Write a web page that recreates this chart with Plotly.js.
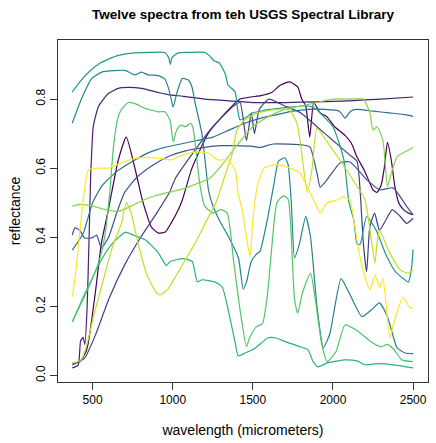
<!DOCTYPE html>
<html><head><meta charset="utf-8">
<script src="https://cdn.plot.ly/plotly-3.0.1.min.js"></script>
<style>body{margin:0;background:#fff}#chart{width:436px;height:443px}</style>
</head><body><div id="chart"></div>
<script>
const colors = ["#440154","#482173","#433E85","#38598C","#2D708E","#25858E","#1E9B8A","#2BB07F","#51C56A","#85D54A","#C2DF23","#FDE725"];

// 1 dark purple (peaks at 710 and 1730)
const w1 = [373,420,460,473,517,555,598,660,710,767,810,829,866,910,953,990,1034,1060,1120,1220,1300,1420,1550,1620,1670,1730,1780,1805,1830,1855,1880,1920,1960,2010,2075,2115,2150,2195,2230,2250,2275,2300,2320,2340,2365,2385,2410,2440,2470,2500];
const r1 = [0.035,0.04,0.07,0.094,0.24,0.383,0.479,0.623,0.69,0.594,0.508,0.479,0.43,0.412,0.415,0.441,0.479,0.508,0.6,0.7,0.745,0.8,0.81,0.82,0.84,0.85,0.835,0.80,0.78,0.69,0.79,0.76,0.75,0.72,0.695,0.672,0.632,0.594,0.557,0.537,0.53,0.55,0.6,0.675,0.62,0.55,0.50,0.48,0.47,0.465];

// 2 purple (flat ~0.8)
const w2 = [373,410,425,440,452,466,478,488,494,504,536,598,660,723,806,910,972,1065,1200,1350,1500,1700,1900,2100,2300,2500];
const r2 = [0.022,0.03,0.10,0.11,0.09,0.2,0.4,0.58,0.643,0.72,0.778,0.816,0.831,0.834,0.831,0.819,0.813,0.808,0.80,0.795,0.79,0.79,0.792,0.795,0.80,0.806];

// 3 indigo
const w3 = [373,450,520,600,700,800,900,980,1017,1120,1250,1380,1420,1460,1490,1510,1540,1600,1700,1800,1900,2000,2100,2150,2170,2190,2210,2230,2260,2290,2330,2370,2420,2460,2500];
const r3 = [0.03,0.05,0.12,0.22,0.32,0.40,0.47,0.53,0.571,0.64,0.72,0.78,0.79,0.68,0.76,0.70,0.77,0.80,0.78,0.76,0.72,0.68,0.64,0.62,0.53,0.38,0.30,0.43,0.47,0.42,0.45,0.48,0.46,0.44,0.455];

// 4 blue (wiggly start)
const w4 = [373,390,420,450,495,525,555,600,650,700,780,880,980,1080,1200,1300,1400,1500,1545,1627,1815,1857,1900,1920,1962,2044,2106,2212,2293,2375,2462,2500];
const r4 = [0.406,0.427,0.42,0.398,0.398,0.406,0.369,0.40,0.47,0.53,0.575,0.61,0.635,0.65,0.66,0.665,0.665,0.663,0.66,0.67,0.667,0.661,0.586,0.545,0.566,0.615,0.618,0.566,0.537,0.543,0.488,0.465];

// 5 blue-teal (ends ~0.75)
const w5 = [373,440,500,560,650,750,850,950,1050,1150,1250,1350,1450,1550,1650,1750,1850,1950,2040,2075,2110,2150,2250,2350,2450,2500];
const r5 = [0.363,0.41,0.50,0.55,0.59,0.62,0.645,0.66,0.67,0.68,0.69,0.71,0.73,0.745,0.755,0.765,0.77,0.77,0.765,0.745,0.765,0.77,0.765,0.76,0.755,0.75];

// 6 teal (starts 0.73)
const w6 = [373,430,495,557,702,764,805,847,910,951,972,992,1003,1024,1045,1060,1097,1120,1140,1182,1223,1244,1290,1350,1410,1440,1460,1490,1520,1545,1590,1630,1660,1700,1720,1740,1760,1790,1830,1860,1900,1940,1980,2050,2100,2180,2240,2290,2340,2400,2450,2500];
const r6 = [0.73,0.80,0.86,0.878,0.883,0.87,0.878,0.87,0.868,0.858,0.834,0.797,0.777,0.815,0.845,0.86,0.855,0.835,0.788,0.70,0.537,0.50,0.45,0.40,0.34,0.25,0.27,0.33,0.35,0.36,0.45,0.55,0.62,0.63,0.61,0.50,0.34,0.38,0.46,0.40,0.20,0.08,0.12,0.28,0.24,0.17,0.19,0.21,0.17,0.08,0.065,0.063];

// 7 teal (top, starts 0.82)
const w7 = [373,420,480,550,650,750,850,950,975,985,995,1030,1100,1200,1230,1260,1290,1310,1330,1345,1370,1390,1405,1420,1450,1500,1550,1600,1700,1800,1850,1900,1920,2000,2040,2070,2100,2130,2150,2170,2210,2270,2330,2390,2440,2470,2490,2500];
const r7 = [0.82,0.85,0.88,0.905,0.925,0.933,0.935,0.935,0.92,0.90,0.92,0.933,0.935,0.935,0.925,0.91,0.905,0.89,0.87,0.84,0.83,0.82,0.77,0.74,0.745,0.76,0.765,0.77,0.775,0.78,0.78,0.77,0.76,0.72,0.67,0.62,0.50,0.45,0.38,0.38,0.46,0.42,0.35,0.30,0.28,0.27,0.31,0.365];

// 8 green-teal (hump at 0.41)
const w8 = [373,455,555,620,705,760,830,910,960,985,1066,1122,1153,1184,1265,1309,1346,1390,1408,1452,1514,1595,1639,1701,1795,1844,1876,1907,1969,2075,2150,2200,2281,2387,2499];
const r8 = [0.155,0.24,0.335,0.38,0.415,0.405,0.392,0.355,0.318,0.33,0.338,0.33,0.271,0.277,0.27,0.256,0.19,0.094,0.057,0.065,0.079,0.109,0.109,0.098,0.083,0.074,0.04,0.025,0.037,0.045,0.042,0.031,0.034,0.03,0.022];

// 9 green (peak 0.79 at 720)
const w9 = [373,420,480,540,575,605,630,655,680,723,764,827,868,910,951,983,1003,1024,1050,1080,1110,1125,1145,1170,1200,1250,1300,1340,1380,1420,1460,1480,1520,1560,1590,1620,1650,1690,1720,1740,1760,1780,1810,1860,1890,1930,1965,2020,2075,2150,2230,2300,2340,2380,2430,2500];
const r9 = [0.155,0.20,0.26,0.33,0.40,0.52,0.66,0.74,0.77,0.79,0.787,0.773,0.768,0.763,0.763,0.739,0.676,0.71,0.725,0.72,0.73,0.72,0.65,0.55,0.49,0.47,0.48,0.47,0.33,0.19,0.083,0.11,0.14,0.15,0.23,0.38,0.50,0.52,0.51,0.40,0.22,0.18,0.24,0.296,0.22,0.09,0.04,0.07,0.146,0.13,0.10,0.083,0.09,0.075,0.045,0.04];

// 10 light green (starts 0.49)
const w10 = [373,420,500,580,660,740,805,890,972,1065,1150,1230,1300,1390,1500,1600,1700,1800,1900,2000,2110,2190,2230,2250,2275,2312,2340,2360,2400,2437,2500];
const r10 = [0.49,0.495,0.49,0.48,0.475,0.49,0.505,0.52,0.53,0.54,0.555,0.57,0.605,0.66,0.72,0.75,0.77,0.78,0.79,0.80,0.80,0.80,0.76,0.71,0.72,0.68,0.546,0.58,0.633,0.644,0.66];

// 11 yellow-green
const w11 = [373,430,470,510,540,580,630,680,710,740,785,840,890,920,970,1016,1078,1140,1223,1270,1320,1370,1400,1450,1530,1650,1730,1775,1800,1840,1870,1900,1970,2056,2137,2200,2240,2262,2275,2290,2355,2420,2470,2500];
const r11 = [0.035,0.045,0.10,0.18,0.23,0.30,0.38,0.44,0.50,0.47,0.38,0.29,0.245,0.233,0.25,0.285,0.334,0.383,0.459,0.50,0.57,0.64,0.71,0.74,0.76,0.77,0.768,0.73,0.66,0.53,0.60,0.715,0.672,0.615,0.557,0.508,0.39,0.325,0.383,0.42,0.354,0.305,0.296,0.305];

// 12 yellow
const w12 = [373,395,430,473,535,598,705,785,890,990,1034,1140,1222,1284,1346,1390,1408,1433,1460,1483,1500,1530,1570,1650,1732,1795,1838,1900,1920,1962,2025,2062,2106,2130,2160,2200,2231,2262,2293,2312,2355,2380,2437,2480,2500];
const r12 = [0.228,0.30,0.458,0.594,0.60,0.60,0.62,0.63,0.63,0.624,0.633,0.647,0.644,0.624,0.624,0.594,0.528,0.479,0.40,0.343,0.45,0.55,0.60,0.61,0.60,0.586,0.546,0.488,0.47,0.499,0.508,0.517,0.508,0.45,0.363,0.285,0.248,0.29,0.254,0.282,0.109,0.153,0.227,0.196,0.196];

const waves = [w1,w2,w3,w4,w5,w6,w7,w8,w9,w10,w11,w12];
const refl = [r1,r2,r3,r4,r5,r6,r7,r8,r9,r10,r11,r12];

const traces = waves.map((w,i)=>({x:w,y:refl[i],type:'scatter',mode:'lines',
  line:{color:colors[i],width:1.2,shape:'spline',smoothing:0.5},hoverinfo:'skip'}));

const layout = {
  width:436,height:443,showlegend:false,
  paper_bgcolor:'#fff',plot_bgcolor:'#fff',
  margin:{l:58,r:8,t:40,b:61},
  font:{family:'Liberation Sans, Arial, sans-serif',size:12,color:'#000'},
  title:{text:'<b>Twelve spectra from teh USGS Spectral Library</b>',xref:'paper',x:0.5,xanchor:'center',y:0.968,yanchor:'middle',font:{size:13.5}},
  xaxis:{range:[284,2593],tickvals:[500,1000,1500,2000,2500],ticks:'outside',ticklen:7,tickcolor:'#333',
    showgrid:false,zeroline:false,showline:true,mirror:true,linecolor:'#333',linewidth:1,
    title:{text:'wavelength (micrometers)',standoff:18},tickfont:{size:12}},
  yaxis:{range:[-0.019,0.971],tickvals:[0,0.2,0.4,0.6,0.8],ticktext:['0.0','0.2','0.4','0.6','0.8'],tickangle:-90,ticks:'outside',ticklen:7,tickcolor:'#333',
    showgrid:false,zeroline:false,showline:true,mirror:true,linecolor:'#333',linewidth:1,
    title:{text:'reflectance',standoff:10},tickfont:{size:12}}
};
Plotly.newPlot('chart',traces,layout,{staticPlot:true});
</script></body></html>
